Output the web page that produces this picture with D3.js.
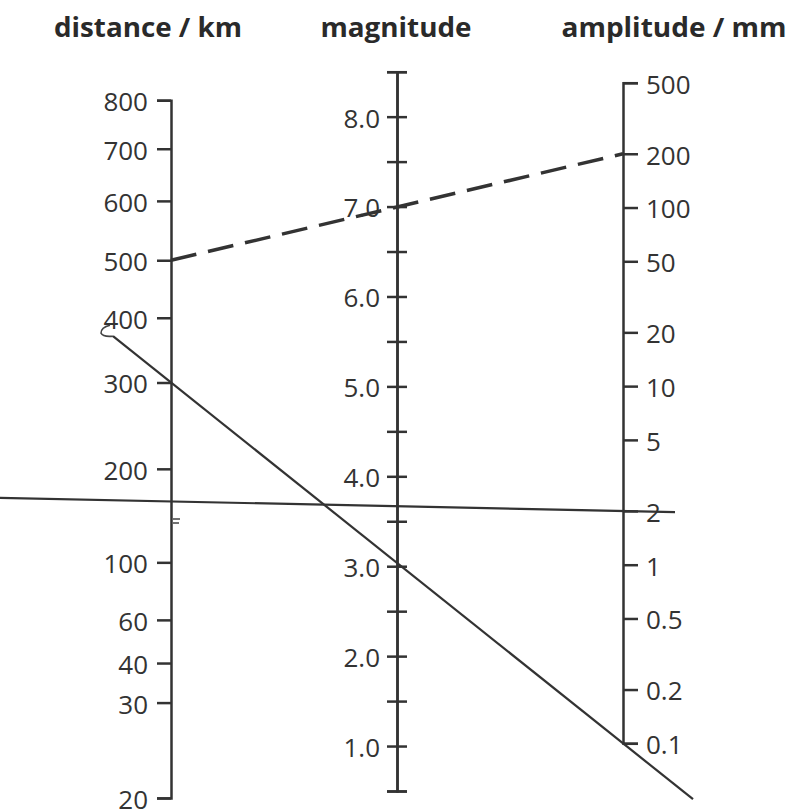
<html>
<head>
<script src="https://d3js.org/d3.v7.min.js"></script>
<style>
  body { margin: 0; background: #fff; }
  svg { display: block; background: #fff; }
  .title { font-family: "Open Sans", sans-serif; font-weight: bold; font-size: 26px; fill: #2a2a2a; }
  .tick text { font-family: "Open Sans", sans-serif; font-size: 26px; fill: #333; }
  .axis path, .axis line { stroke: #333; stroke-width: 2.5; }
</style>
</head>
<body>
<svg width="789" height="812"></svg>
<script>

// distance scale: tick values and the Richter correction (-log A0) each one sits at
var distTicks = [20, 30, 40, 60, 100, 200, 300, 400, 500, 600, 700, 800];
var distCorr  = [1.72, 2.25, 2.47, 2.71, 3.03, 3.55, 4.03, 4.39, 4.71, 5.04, 5.33, 5.60];

var magTicks = [0.5, 1.0, 1.5, 2.0, 2.5, 3.0, 3.5, 4.0, 4.5, 5.0, 5.5, 6.0, 6.5, 7.0, 7.5, 8.0, 8.5];
var ampTicks = [0.1, 0.2, 0.5, 1, 2, 5, 10, 20, 50, 100, 200, 500];

var titles = ["distance / km", "magnitude", "amplitude / mm"];

// readings drawn across the nomogram (distance on the left, amplitude on the right)
var readDist = [500, 300, 157];
var readAmp  = [200, 0.1, 2];
var readDash = [true, false, false];

var svg = d3.select("svg");

var xL = 171, xM = 397, xR = 623;

var magY = d3.scaleLinear().domain([0.5, 8.5]).range([791, 71.7]);
var ampY = d3.scaleLog().domain([0.1, 500]).range([743.3, 82.7]);
// left scale is built from the other two: y = 2*mag(C) - amp(1)
var distY = d3.scaleLog().domain(distTicks)
  .range(distCorr.map(function(c) { return 2 * magY(c) - ampY(1); }));

//titles
var titleX = [148, 396, 674];
var titleW = [188, 151, 225];
svg.selectAll(".title").data(titles).enter().append("text")
  .attr("class", "title")
  .attr("x", function(d, i) { return titleX[i]; })
  .attr("y", 36.7)
  .attr("text-anchor", "middle")
  .attr("textLength", function(d, i) { return titleW[i]; })
  .attr("lengthAdjust", "spacingAndGlyphs")
  .text(function(d) { return d; });

//left axis
svg.append("g").attr("class", "axis")
  .attr("transform", "translate(" + xL + ",0)")
  .call(d3.axisLeft(distY).tickValues(distTicks).tickSize(14).tickPadding(9)
    .tickFormat(d3.format("d")));

//middle axis, ticks on both sides
svg.append("g").attr("class", "axis")
  .attr("transform", "translate(" + xM + ",0)")
  .call(d3.axisLeft(magY).tickValues(magTicks).tickSize(10).tickPadding(7)
    .tickFormat(function(d) { return d % 1 === 0 ? d.toFixed(1) : ""; }));
svg.append("g").attr("class", "axis")
  .attr("transform", "translate(" + xM + ",0)")
  .call(d3.axisRight(magY).tickValues(magTicks).tickSize(10).tickFormat(""));

//right axis
svg.append("g").attr("class", "axis")
  .attr("transform", "translate(" + xR + ",0)")
  .call(d3.axisRight(ampY).tickValues(ampTicks).tickSize(15).tickPadding(8)
    .tickFormat(function(d) { return String(d); }));

svg.selectAll(".tick text").attr("dy", "0.4em");

// reading lines, how far each one runs past the outer axes
var extLeft = [0, 58, 171];
var extRight = [0, 70, 52];

readDist.forEach(function(dist, i) {
  var y1 = distY(dist), y2 = ampY(readAmp[i]);
  var k = (y2 - y1) / (xR - xL);
  var xa = xL - extLeft[i], xb = xR + extRight[i];
  var ya = y1 + k * (xa - xL), yb = y1 + k * (xb - xL);
  var ln = svg.append("line")
    .attr("x1", xa).attr("y1", ya)
    .attr("x2", xb).attr("y2", yb)
    .attr("stroke", "#333")
    .attr("stroke-width", readDash[i] ? 3.5 : 2.2);
  if (readDash[i]) ln.attr("stroke-dasharray", "26,12");
  if (i == 1) {
    // little pen hook where the line was started
    svg.append("path")
      .attr("d", "M" + (xa - 3) + "," + (ya - 11) + " Q" + (xa - 12) + "," + (ya - 9) + " " + (xa - 12) + "," + (ya - 3)
        + " Q" + (xa - 10) + "," + (ya + 1) + " " + xa + "," + ya)
      .attr("fill", "none").attr("stroke", "#444").attr("stroke-width", 1.6);
  }
});

// small pen marks next to the left axis
svg.append("path")
  .attr("d", "M" + (xL + 2) + ",519 h7 M" + (xL + 2) + ",523 h6")
  .attr("stroke", "#444").attr("stroke-width", 1.5);

</script>
</body>
</html>
